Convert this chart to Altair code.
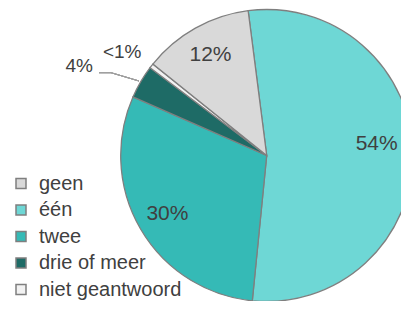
import altair as alt
import pandas as pd

# slice order (clockwise from the top) and values in percent
categories = ["één", "twee", "drie of meer", "niet geantwoord", "geen"]
values = [53.6, 30.0, 3.7, 0.5, 12.2]
labels = ["54%", "30%", "4%", "<1%", "12%"]
order = [1, 2, 3, 4, 5]

legend_order = ["geen", "één", "twee", "drie of meer", "niet geantwoord"]
legend_colors = ["#d9d9d9", "#6ed7d5", "#35bab6", "#1e6b66", "#f2f2f2"]

df = pd.DataFrame({"cat": categories, "value": values, "label": labels, "ord": order})

START = -0.1274
theta_scale = alt.Scale(domain=[0, 100], range=[START, START + 6.283185])

CX, CY, R = 258.7, 147.5, 146
FONT = "Liberation Sans"
TXT = "#404040"

base = alt.Chart(df).transform_window(
    cum="sum(value)", sort=[alt.SortField("ord")], frame=[None, 0]
).transform_calculate(
    start="datum.cum - datum.value", mid="datum.cum - datum.value / 2"
)

arcs = base.mark_arc(radius=R, stroke="#7f7f7f", strokeWidth=1.3).encode(
    theta=alt.Theta("start:Q", scale=theta_scale, stack=None),
    theta2="cum:Q",
    color=alt.Color(
        "cat:N",
        scale=alt.Scale(domain=legend_order, range=legend_colors),
        legend=alt.Legend(
            title=None, orient="none", legendX=3, legendY=165.5,
            symbolType="square", symbolSize=100, symbolStrokeColor="#7f7f7f",
            symbolStrokeWidth=1.5, labelFont=FONT, labelFontSize=20,
            labelColor=TXT, labelOffset=8, rowPadding=6.5, padding=0,
            labelLimit=300,
        ),
    ),
    order=alt.Order("ord:Q"),
    x=alt.value(CX), y=alt.value(CY),
)


def label_layer(filt, radius, size, dx=0, dy=0):
    return base.transform_filter(filt).mark_text(
        radius=radius, dx=dx, dy=dy, font=FONT, fontSize=size, color=TXT,
        baseline="middle", align="center"
    ).encode(
        theta=alt.Theta("mid:Q", scale=theta_scale, stack=None),
        text="label:N", x=alt.value(CX), y=alt.value(CY),
    )


l54 = label_layer("datum.cat == 'één'", 112, 21, dx=-2, dy=-10)
lmid = label_layer("datum.value >= 10 && datum.value < 50", 115, 21)
lt1 = label_layer("datum.cat == 'niet geantwoord'", 178, 19, dx=-4, dy=5.5)
four = label_layer("datum.cat == 'drie of meer'", 208, 19, dx=-8, dy=16)

lead1 = alt.Chart(df).mark_rule(color="#a0a0a0", strokeWidth=1).encode(
    x=alt.value(91), x2=alt.value(103), y=alt.value(64.7), y2=alt.value(64.7)
)
lead2 = alt.Chart(df).mark_rule(color="#a0a0a0", strokeWidth=1).encode(
    x=alt.value(103), x2=alt.value(131), y=alt.value(64.7), y2=alt.value(73)
)

chart = alt.layer(arcs, l54, lmid, lt1, four, lead1, lead2).properties(
    width=393, height=293, autosize="none", padding=0
).configure_view(stroke=None)

chart.save("out.html", embed_options={"renderer": "svg", "actions": False})
